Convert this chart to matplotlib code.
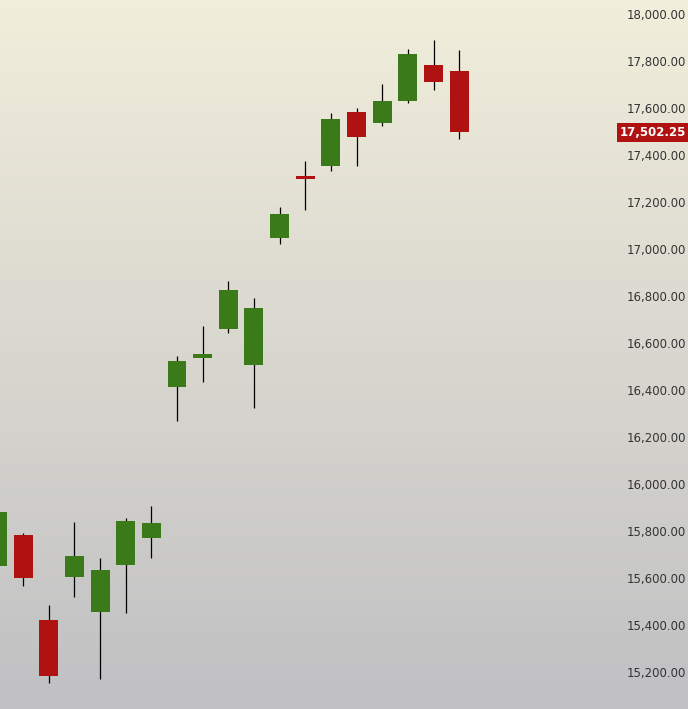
import matplotlib
matplotlib.use("Agg")
import matplotlib.pyplot as plt
import numpy as np

opens  = [15659, 15790, 15429, 15612, 15463, 15663, 15778, 16419, 16543, 16666, 16513, 17052, 17316, 17358, 17588, 17541, 17635, 17788, 17762]
highs  = [15900, 15799, 15493, 15846, 15693, 15863, 15914, 16551, 16679, 16870, 16798, 17184, 17380, 17584, 17605, 17707, 17856, 17894, 17851]
lows   = [15600, 15574, 15162, 15527, 15179, 15459, 15693, 16275, 16441, 16649, 16330, 17027, 17171, 17337, 17358, 17528, 17626, 17681, 17473]
closes = [15888, 15608, 15191, 15701, 15642, 15850, 15841, 16530, 16560, 16832, 16755, 17154, 17303, 17558, 17482, 17635, 17834, 17715, 17502.25]
yticks = list(range(15200, 18001, 200))
last_price = 17502.25

fig = plt.figure(figsize=(6.88, 7.09), dpi=100)
ax = fig.add_axes([0, 0, 620/688, 1])
ymin, ymax = 15051, 18064
ax.set_xlim(0.1, 24.27)
ax.set_ylim(ymin, ymax)
grad = np.linspace(0, 1, 256).reshape(-1, 1)
from matplotlib.colors import LinearSegmentedColormap
cm = LinearSegmentedColormap.from_list("g", ["#c0c0c3", "#f1eedb"])
fig.figimage(np.flipud(cm(np.linspace(0,1,709)).reshape(709,1,4).repeat(688,axis=1)), 0, 0, zorder=-10)
ax.patch.set_alpha(0)
for s in ax.spines.values():
    s.set_visible(False)
ax.set_xticks([])
ax.set_yticks([])
w = 0.74
for i, (o, h, l, c) in enumerate(zip(opens, highs, lows, closes)):
    col = "#3a7a18" if c >= o else "#b01212"
    ax.vlines(i, l, h, color="black", lw=0.9, zorder=1)
    ax.bar(i, max(abs(c - o), 12), bottom=min(o, c), width=w, color=col, zorder=2)
for t in yticks:
    yf = (t - ymin) / (ymax - ymin)
    fig.text(686/688, yf, f"{t:,.2f}", ha="right", va="center", fontsize=8.5, color="#333333")
yf = (last_price - ymin) / (ymax - ymin)
fig.text(686/688, yf, f"{last_price:,.2f}", ha="right", va="center", fontsize=8.5, color="white",
         fontweight="bold", bbox=dict(boxstyle="square,pad=0.25", fc="#b01212", ec="none"))
fig.savefig("out.png", dpi=100)
